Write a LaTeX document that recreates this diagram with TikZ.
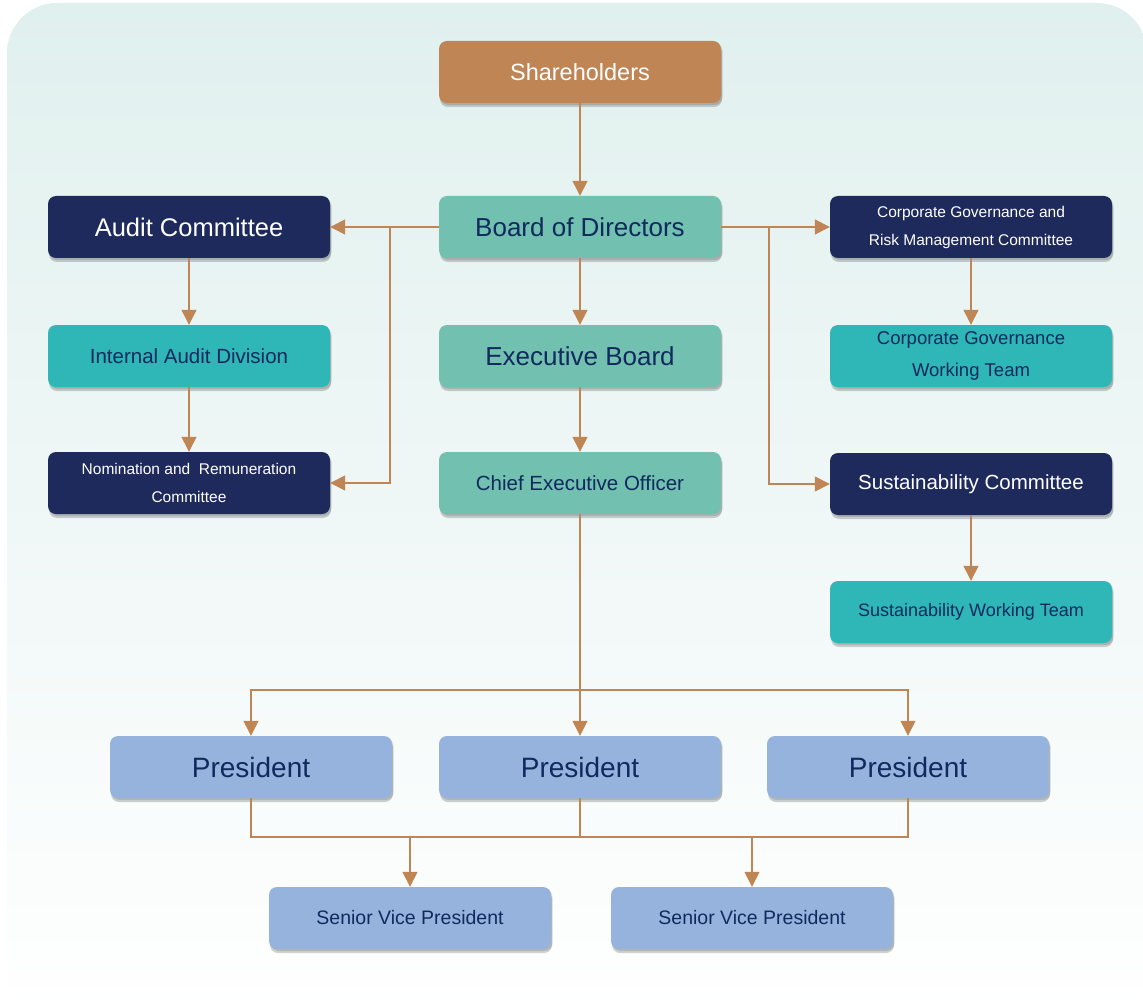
\documentclass[tikz,border=0pt]{standalone}
\usepackage{fontspec}
\setmainfont{Liberation Sans}
\usetikzlibrary{arrows.meta,positioning,shadows}

\definecolor{bgtop}{HTML}{E0F0EE}
\definecolor{bgmid}{HTML}{E8F4F2}
\definecolor{goldclr}{HTML}{BF8555}
\definecolor{mintclr}{HTML}{72C0B0}
\definecolor{navyclr}{HTML}{1E2A5C}
\definecolor{tealclr}{HTML}{2FB6B7}
\definecolor{presclr}{HTML}{95B3DD}
\definecolor{txtclr}{HTML}{102A5E}

\begin{document}
\begin{tikzpicture}[x=1pt,y=-1pt,>={Triangle[width=15pt,length=15pt]},
    box/.style={rectangle,rounded corners=8pt,minimum width=282pt,
      minimum height=62pt,inner sep=0pt,align=center,
      drop shadow={shadow xshift=1.5pt,shadow yshift=-2pt,fill=black,opacity=0.12},
      drop shadow={shadow xshift=1pt,shadow yshift=-4pt,fill=black,opacity=0.18}},
    goldbox/.style={box,fill=goldclr,text=white},
    mintbox/.style={box,fill=mintclr,text=txtclr},
    navybox/.style={box,fill=navyclr,text=white},
    tealbox/.style={box,fill=tealclr,text=txtclr},
    presbox/.style={box,fill=presclr,text=txtclr},
    big/.style={font=\fontsize{25.5}{30}\selectfont},
    mid/.style={font=\fontsize{20.5}{32}\selectfont},
    small/.style={font=\fontsize{15.5}{28}\selectfont},
    link/.style={draw=goldclr,line width=1.4pt},
    arr/.style={link,->}]

  % background card
  \useasboundingbox (0,0) rectangle (1143,1000);
  \clip (0,0) rectangle (1143,1000);
  \shade[top color=bgtop,middle color=bgmid,bottom color=white,
    rounded corners=50pt] (7,3) rectangle (1147,1020);

  % centre column
  \node[goldbox,font=\fontsize{23.5}{28}\selectfont] (sh)  at (580,72)  {Shareholders};
  \node[mintbox,font=\fontsize{26}{30}\selectfont]   (bod) at (580,227) {Board of Directors};
  \node[mintbox,font=\fontsize{26}{30}\selectfont]   (eb)  at (580,356) {Executive Board};
  \node[mintbox,mid]                                 (ceo) at (580,483) {Chief Executive Officer};

  % left column
  \node[navybox,big]   (ac)  at (189,227) {Audit Committee};
  \node[tealbox,mid]   (iad) at (189,356) {Internal Audit Division};
  \node[navybox,small] (nrc) at (189,483) {Nomination and\ \ Remuneration\\Committee};

  % right column
  \node[navybox,small] (cgr)  at (971,227) {Corporate Governance and\\Risk Management Committee};
  \node[tealbox,font=\fontsize{18.5}{32}\selectfont] (cgwt) at (971,356) {Corporate Governance\\Working Team};
  \node[navybox,mid]   (sc)   at (971,484) {Sustainability Committee};
  \node[tealbox,font=\fontsize{18}{22}\selectfont]   (swt)  at (971,612) {Sustainability Working Team};

  % presidents
  \node[presbox,font=\fontsize{28}{32}\selectfont] (p1) at (251,767) {President};
  \node[presbox,font=\fontsize{28}{32}\selectfont] (p2) at (580,767) {President};
  \node[presbox,font=\fontsize{28}{32}\selectfont] (p3) at (908,767) {President};
  \node[presbox,font=\fontsize{19.5}{24}\selectfont] (svp1) at (410,918) {Senior Vice President};
  \node[presbox,font=\fontsize{19.5}{24}\selectfont] (svp2) at (752,918) {Senior Vice President};

  \coordinate (lbr) at (390,227);
  \coordinate (rbr) at (769,227);
  \coordinate (csplit) at (580,690);
  \coordinate (psplit) at (580,837);

  % connectors
  \draw[arr] (sh) -- (bod);
  \draw[arr] (bod) -- (ac);
  \draw[arr] (bod) -- (cgr);
  \draw[arr] (lbr) |- (nrc);
  \draw[arr] (rbr) |- (sc);
  \draw[arr] (ac) -- (iad);
  \draw[arr] (iad) -- (nrc);
  \draw[arr] (bod) -- (eb);
  \draw[arr] (eb) -- (ceo);
  \draw[arr] (cgr) -- (cgwt);
  \draw[arr] (sc) -- (swt);
  \draw[arr] (ceo) -- (p2);
  \draw[arr] (csplit) -| (p1);
  \draw[arr] (csplit) -| (p3);
  \draw[link] (p1) |- (psplit);
  \draw[link] (p3) |- (psplit);
  \draw[link] (p2) -- (psplit);
  \draw[arr] (psplit) -| (svp1);
  \draw[arr] (psplit) -| (svp2);
\end{tikzpicture}
\end{document}
